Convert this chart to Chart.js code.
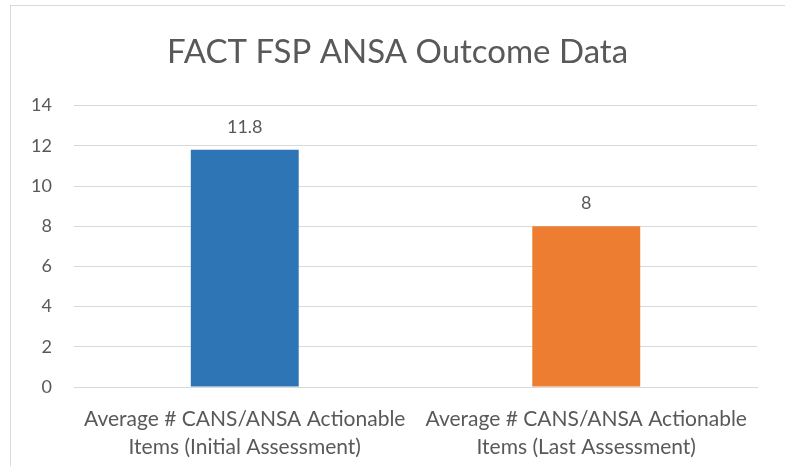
<!DOCTYPE html>
<html>
<head>
<meta charset="utf-8">
<script src="https://cdn.jsdelivr.net/npm/chart.js@4/dist/chart.umd.min.js"></script>
<style>
  html, body { margin: 0; padding: 0; background: #fff; }
  #wrap { position: relative; width: 785px; height: 466px; overflow: hidden; }
  #frame { position: absolute; left: 10px; top: 5px; width: 800px; height: 500px; border: 1px solid #d9d9d9; box-sizing: border-box; }
  canvas { position: absolute; left: 0; top: 0; }
</style>
</head>
<body>
<div id="wrap">
  <div id="frame"></div>
  <canvas id="chart" width="785" height="466"></canvas>
</div>
<script>
// ---- data ----
const categories = [
    ['Average # CANS/ANSA Actionable', 'Items (Initial Assessment)'],
    ['Average # CANS/ANSA Actionable', 'Items (Last Assessment)']
];
const values = [11.8, 8];
const barColors = ['#2E75B6', '#ED7D31'];
const yTicks = [0, 2, 4, 6, 8, 10, 12, 14];

const FONT = 'Lato, "Open Sans", sans-serif';
const TEXT = '#595959';

// value labels above the bars
const valueLabels = {
    id: 'valueLabels',
    afterDatasetsDraw(chart) {
        const ctx = chart.ctx;
        const meta = chart.getDatasetMeta(0);
        ctx.save();
        ctx.font = '18px ' + FONT;
        ctx.fillStyle = TEXT;
        ctx.textAlign = 'center';
        ctx.textBaseline = 'middle';
        meta.data.forEach((bar, i) => {
            ctx.fillText(String(values[i]), bar.x, bar.y - 23);
        });
        ctx.restore();
    }
};

new Chart(document.getElementById('chart'), {
    type: 'bar',
    data: {
        labels: categories,
        datasets: [{
            data: values,
            backgroundColor: barColors,
            borderWidth: 0,
            categoryPercentage: 1,
            barPercentage: 0.316
        }]
    },
    options: {
        responsive: false,
        animation: false,
        layout: { padding: { left: 10, right: 0, top: 0, bottom: 0 } },
        plugins: {
            legend: { display: false },
            tooltip: { enabled: false },
            title: {
                display: true,
                text: 'FACT FSP ANSA Outcome Data',
                color: TEXT,
                font: { family: FONT, size: 33, weight: 'normal' },
                padding: { top: 33, bottom: 33 }
            }
        },
        scales: {
            x: {
                grid: { display: false },
                border: { color: '#d9d9d9', width: 1 },
                ticks: {
                    color: TEXT,
                    font: { family: FONT, size: 21, lineHeight: 1.35 },
                    maxRotation: 0,
                    autoSkip: false,
                    padding: 10
                },
                afterFit(scale) { scale.height = 79; }
            },
            y: {
                min: 0,
                max: 14,
                afterBuildTicks(scale) { scale.ticks = yTicks.map(v => ({ value: v })); },
                grid: { color: '#d9d9d9', drawTicks: false },
                border: { display: false },
                ticks: {
                    color: TEXT,
                    font: { family: FONT, size: 18 },
                    padding: 22
                },
                afterFit(scale) { scale.width = 64; }
            },
            // empty right-hand axis that only reserves the right margin
            yRight: {
                position: 'right',
                display: true,
                grid: { display: false, drawTicks: false },
                border: { display: false },
                ticks: { display: false },
                afterFit(scale) { scale.width = 28; }
            }
        }
    },
    plugins: [valueLabels]
});
</script>
</body>
</html>
